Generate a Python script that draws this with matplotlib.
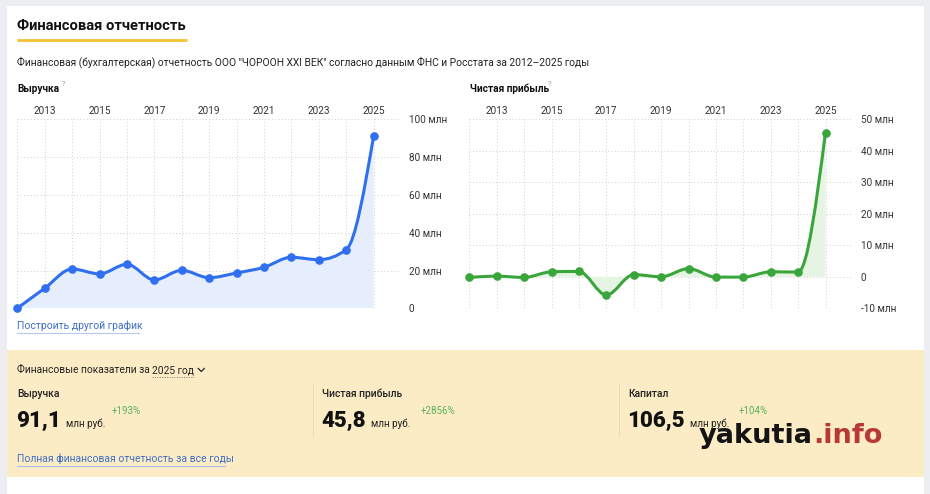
import numpy as np
import matplotlib
matplotlib.use('Agg')
import matplotlib.pyplot as plt
from matplotlib.path import Path
from matplotlib.patches import PathPatch, Rectangle

# ---------------- data ----------------
years = list(range(2012, 2026))
revenue = [0.0, 10.6, 20.8, 18.2, 23.3, 15.0, 20.1, 16.2, 18.7, 21.7, 27.0, 25.7, 31.0, 91.1]
profit = [-0.2, 0.2, -0.2, 1.6, 1.7, -5.8, 0.7, 0.0, 2.6, -0.1, -0.1, 1.6, 1.5, 45.8]
year_ticks = [2013, 2015, 2017, 2019, 2021, 2023, 2025]
rev_ticks = [0, 20, 40, 60, 80, 100]
rev_tick_labels = ['0', '20 млн', '40 млн', '60 млн', '80 млн', '100 млн']
profit_ticks = [-10, 0, 10, 20, 30, 40, 50]
profit_tick_labels = ['-10 млн', '0', '10 млн', '20 млн', '30 млн', '40 млн', '50 млн']

summary_labels = ['Выручка', 'Чистая прибыль', 'Капитал']
summary_values = ['91,1', '45,8', '106,5']
summary_changes = ['+193%', '+2856%', '+104%']

W, H = 930, 494
FONT = ['Roboto', 'DejaVu Sans']
plt.rcParams['font.family'] = FONT

BLUE = '#2f6ff0'
BLUE_FILL = '#e6eefd'
GREEN = '#3aa53a'
GREEN_FILL = '#e5f4e3'
GRID = '#d6d6d6'
TXT = '#222222'
LINK = '#3f6fc4'


def monotone_path(x, y, base=None):
    x = np.asarray(x, float)
    y = np.asarray(y, float)
    n = len(x)
    h = np.diff(x)
    s = np.diff(y) / h
    t = np.zeros(n)
    for i in range(1, n - 1):
        p = (s[i - 1] * h[i] + s[i] * h[i - 1]) / (h[i - 1] + h[i])
        t[i] = (np.sign(s[i - 1]) + np.sign(s[i])) * min(abs(s[i - 1]), abs(s[i]), 0.5 * abs(p))
    t[0] = (3 * s[0] - t[1]) / 2
    t[-1] = (3 * s[-1] - t[-2]) / 2
    verts = [(x[0], y[0])]
    codes = [Path.MOVETO]
    for i in range(n - 1):
        dx = h[i] / 3
        verts += [(x[i] + dx, y[i] + dx * t[i]), (x[i + 1] - dx, y[i + 1] - dx * t[i + 1]), (x[i + 1], y[i + 1])]
        codes += [Path.CURVE4] * 3
    if base is not None:
        verts += [(x[-1], base), (x[0], base), (x[0], base)]
        codes += [Path.LINETO, Path.LINETO, Path.CLOSEPOLY]
    return Path(verts, codes)


fig = plt.figure(figsize=(W / 100, H / 100), dpi=100)
fig.patch.set_facecolor('#eceef2')
renderer = fig.canvas.get_renderer()


def right_px(txt):
    return txt.get_window_extent(renderer=renderer).x1 * 100 / fig.dpi


bg = fig.add_axes([0, 0, 1, 1], zorder=-5)
bg.set_xlim(0, W)
bg.set_ylim(H, 0)
bg.axis('off')
bg.add_patch(Rectangle((7, 6), 917, 490, facecolor='white', edgecolor='none'))
bg.add_patch(Rectangle((7, 350), 917, 127, facecolor='#fcecc6', edgecolor='none'))

# header
bg.text(17, 26, 'Финансовая отчетность', fontsize=10.6, fontweight='bold', color='#111', va='center', ha='left')
bg.plot([17, 187], [40.5, 40.5], color='#f2c230', lw=2.0, solid_capstyle='butt')
bg.text(17, 62, 'Финансовая (бухгалтерская) отчетность ООО "ЧОРООН XXI ВЕК" согласно данным ФНС и Росстата за 2012–2025 годы',
        fontsize=7.4, color=TXT, va='center', ha='left')

# chart titles
bg.text(17, 89, 'Выручка', fontsize=7.3, fontweight='bold', color='#111', va='center')
bg.text(62, 84, '?', fontsize=5.5, color='#999', va='center')
bg.text(470, 89, 'Чистая прибыль', fontsize=7.3, fontweight='bold', color='#111', va='center')
bg.text(548, 84, '?', fontsize=5.5, color='#999', va='center')

bg.text(17, 326, 'Построить другой график', fontsize=7.5, color=LINK, va='center')
bg.plot([17, 139], [333, 333], color='#b7c9ea', lw=0.8)


def make_chart(left_px, right_px_, values, ymin, ymax, ticks, tlabels, color, fill):
    top_px, bot_px = 119.3, 308.3
    ax = fig.add_axes([left_px / W, 1 - bot_px / H, (right_px_ - left_px) / W, (bot_px - top_px) / H])
    ax.set_facecolor('none')
    ax.set_xlim(2012, 2026)
    ax.set_ylim(ymin, ymax)
    for sp in ax.spines.values():
        sp.set_visible(False)
    ax.xaxis.tick_top()
    ax.set_xticks(year_ticks)
    ax.set_xticklabels([str(y) for y in year_ticks])
    ax.set_xticks([y for y in range(2012, 2027) if y not in year_ticks], minor=True)
    ax.yaxis.tick_right()
    ax.set_yticks(ticks)
    ax.set_yticklabels(tlabels)
    ax.tick_params(axis='both', which='both', length=0, labelsize=7.2, labelcolor='#333')
    ax.tick_params(axis='x', pad=2.5)
    ax.tick_params(axis='y', pad=5.5)
    ax.grid(True, which='both', axis='x', color=GRID, lw=0.7, linestyle=(0, (1.2, 2.2)))
    ax.grid(True, which='major', axis='y', color=GRID, lw=0.7, linestyle=(0, (1.2, 2.2)))
    ax.set_axisbelow(True)
    ax.add_patch(PathPatch(monotone_path(years, values, base=0), facecolor=fill, edgecolor='none', zorder=1))
    ax.add_patch(PathPatch(monotone_path(years, values), facecolor='none', edgecolor=color, lw=2.2,
                           capstyle='round', joinstyle='round', zorder=3))
    ax.plot(years, values, 'o', ms=5.2, color=color, zorder=4, clip_on=False)
    return ax


make_chart(17.3, 401.0, revenue, 0, 100, rev_ticks, rev_tick_labels, BLUE, BLUE_FILL)
make_chart(469.3, 852.9, profit, -10, 50, profit_ticks, profit_tick_labels, GREEN, GREEN_FILL)

# bottom panel
t0 = bg.text(17, 370, 'Финансовые показатели за', fontsize=7.4, color=TXT, va='center')
x0 = right_px(t0) + 2.5
t0b = bg.text(x0, 370, '2025 год', fontsize=7.4, color=TXT, va='center')
x1 = right_px(t0b)
bg.plot([x0, x1], [377, 377], color='#777', lw=0.7, linestyle=(0, (1, 1.5)))
bg.plot([x1 + 4, x1 + 7, x1 + 10], [368.5, 371.5, 368.5], color='#333', lw=1.0)

cols = [17, 322, 628]
chg_x = [112, 421, 739]
for i in range(3):
    bg.text(cols[i], 394, summary_labels[i], fontsize=7.4, fontweight='medium', color=TXT, va='center')
    tv = bg.text(cols[i] - 0.5, 427, summary_values[i], fontsize=16, fontweight='heavy', color='#111', va='baseline')
    ux = right_px(tv) + 5
    bg.text(ux, 427, 'млн руб.', fontsize=7.1, color=TXT, va='baseline')
    bg.text(chg_x[i], 411, summary_changes[i], fontsize=7.0, color='#57b05a', va='center')
for sx in [312.5, 618.5]:
    bg.plot([sx, sx], [384, 436], color='#eadcb2', lw=0.8)

bg.text(17, 459, 'Полная финансовая отчетность за все годы', fontsize=7.5, color=LINK, va='center')
bg.plot([17, 225], [466, 466], color='#a9c0ea', lw=0.8)

# watermark
t1 = bg.text(699, 443, 'yakutia', fontsize=19.6, fontweight='bold', color='#141414', va='baseline',
             family='DejaVu Sans')
bg.text(right_px(t1), 443, '.info', fontsize=19.6, fontweight='bold', color='#b83838', va='baseline',
        family='DejaVu Sans')

fig.savefig('out.png', dpi=100, facecolor=fig.get_facecolor())
